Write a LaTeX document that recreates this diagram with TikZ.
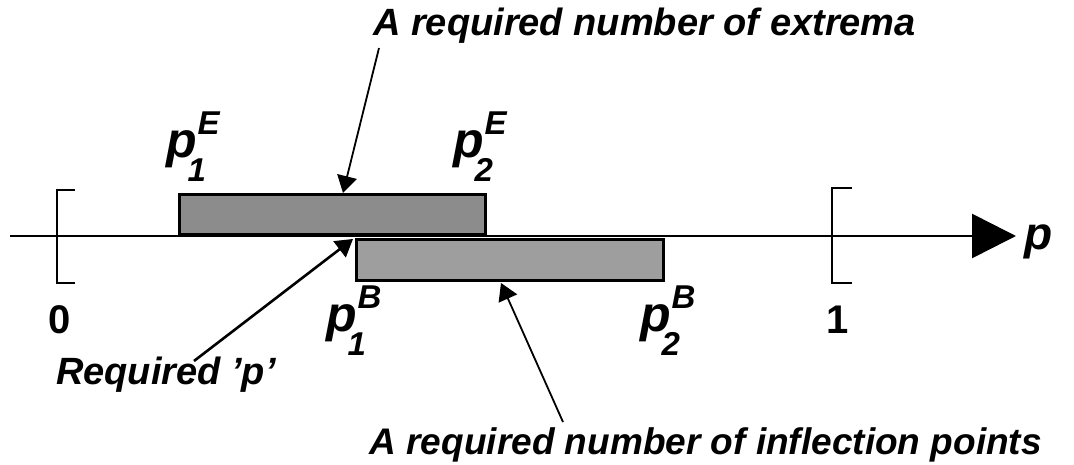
\documentclass[tikz,border=0pt]{standalone}
\usepackage{fontspec}
\setmainfont{Liberation Sans}
\usetikzlibrary{arrows.meta}
\newcommand{\bigf}{\fontsize{50}{50}\selectfont}
\newcommand{\scrf}{\fontsize{33}{33}\selectfont}
\newcommand{\plab}[2]{{\bigf p}\rlap{\kern1pt\raisebox{23pt}{\scrf #2}}\kern-9pt\raisebox{-24pt}{\scrf #1}}
\tikzset{
  lbl/.style={font=\bfseries\itshape\fontsize{38}{38}\selectfont, inner sep=0pt},
  plbl/.style={font=\bfseries\itshape, inner sep=0pt, anchor=base west},
  band/.style={draw=black, line width=2.6pt},
  bracket/.style={line width=2.6pt},
  ptr/.style={line width=1.8pt, -{Triangle[width=20pt,length=17pt]}},
}
\begin{document}
\begin{tikzpicture}[x=1pt,y=-1pt]
\useasboundingbox (0,0) rectangle (1074,465);
% axis
\coordinate (axL) at (10,236);
\coordinate (axR) at (1016,236);
\draw[line width=2.6pt, -{Triangle[width=44pt,length=44pt]}] (axL) -- (axR);
\node[lbl, anchor=base west, font=\bfseries\itshape\fontsize{46}{46}\selectfont] (plab) at (1024,250) {p};
% brackets
\draw[bracket] (75,190) -- (57,190) -- (57,283) -- (75,283);
\draw[bracket] (852,188) -- (832,188) -- (832,283) -- (852,283);
\node[lbl, anchor=base, font=\bfseries\fontsize{40}{40}\selectfont] (zero) at (60,333) {0};
\node[lbl, anchor=base, font=\bfseries\fontsize{40}{40}\selectfont] (one) at (838,333) {1};
% bands
\node[band, fill=black!45, minimum width=306pt, minimum height=40pt, inner sep=0pt, anchor=north west] (boxE) at (178,193) {};
\node[band, fill=black!38, minimum width=307pt, minimum height=41pt, inner sep=0pt, anchor=north west] (boxB) at (355,238) {};
% p labels
\node[plbl] (p1E) at (166,158) {\plab{1}{E}};
\node[plbl] (p2E) at (453,158) {\plab{2}{E}};
\node[plbl] (p1B) at (326,331) {\plab{1}{B}};
\node[plbl] (p2B) at (640,331) {\plab{2}{B}};
% texts
\node[lbl, anchor=base west] (tExt) at (373,36) {A required number of extrema};
\node[lbl, anchor=base west] (tReq) at (56,384) {Required 'p'};
\node[lbl, anchor=base east, font=\bfseries\itshape\fontsize{37}{37}\selectfont] (tInf) at (1042,454) {A required number of inflection points};
% arrows
\coordinate (sExt) at (379,48);
\coordinate (eExt) at (343,193);
\coordinate (sReq) at (194,361);
\coordinate (eReq) at (353,239);
\coordinate (sInf) at (563,422);
\coordinate (eInf) at (501,283);
\draw[ptr] (sExt) -- (eExt);
\draw[ptr, line width=2.6pt] (sReq) -- (eReq);
\draw[ptr] (sInf) -- (eInf);
\end{tikzpicture}
\end{document}
